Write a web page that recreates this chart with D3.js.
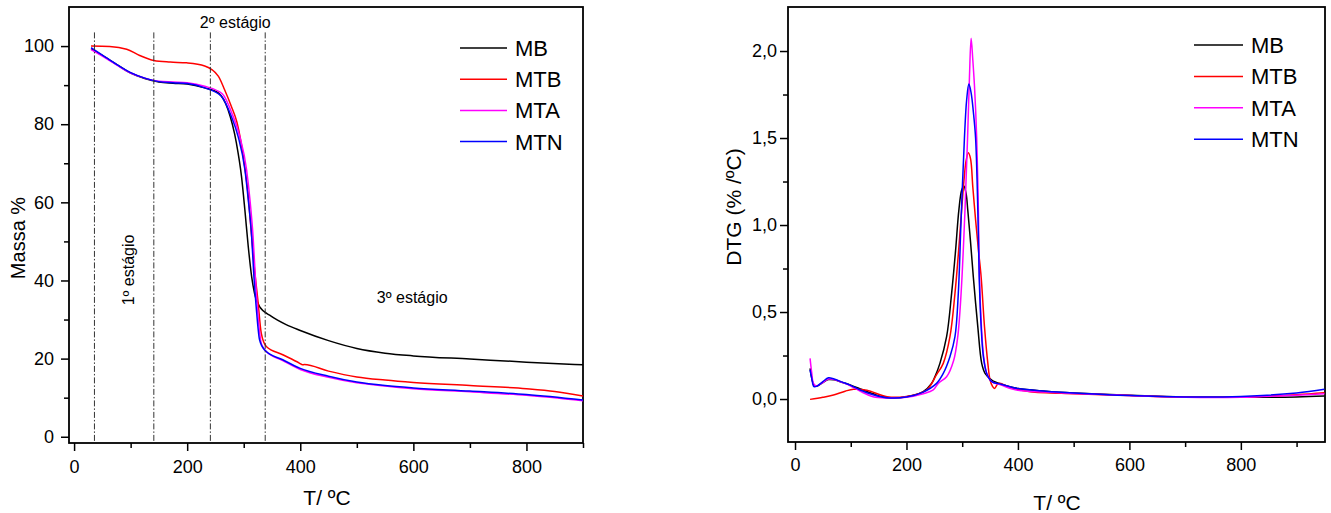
<!DOCTYPE html>
<html><head><meta charset="utf-8">
<script src="https://cdn.jsdelivr.net/npm/d3@7"></script>
<style>
body{margin:0;background:#fff}
svg{display:block}
text{font-family:"Liberation Sans",Arial,Helvetica,sans-serif;fill:#000}
</style>
</head><body>
<svg id="chart" width="1331" height="513"></svg>
<script>
// ---------- data ----------
const seriesNames = ["MB", "MTB", "MTA", "MTN"];
const seriesColors = ["#000000", "#ff0000", "#ff00ff", "#0000ff"];

// TG (Massa %) curves
const tgMB_T = [30, 50, 75, 100, 125, 150, 175, 200, 231, 255, 272, 287, 296, 302, 308, 314, 319, 328, 349, 375, 400, 450, 500, 550, 600, 700, 800, 900];
const tgMB_V = [99.3, 97.6, 95.3, 93.1, 91.7, 90.8, 90.5, 90.3, 89.3, 88.0, 83.8, 75.2, 66.7, 58.1, 48.7, 41.0, 36.8, 33.3, 30.8, 28.7, 27.2, 24.6, 22.6, 21.4, 20.7, 19.9, 19.1, 18.4];

const tgMTB_T = [30, 63, 93, 116, 141, 170, 199, 231, 255, 266, 278, 288, 300, 307, 313, 319, 325, 331, 340, 369, 399, 404, 407, 450, 500, 550, 600, 700, 800, 850, 900];
const tgMTB_V = [100, 99.9, 99.2, 97.6, 96.3, 95.9, 95.7, 94.9, 92.3, 88.9, 84.6, 80.5, 71.0, 63.0, 53.0, 43.0, 35.0, 26.5, 23.1, 21.0, 18.8, 18.4, 18.5, 16.8, 15.3, 14.5, 13.9, 13.1, 12.3, 11.6, 10.4];

const tgMTA_T = [30, 50, 75, 100, 125, 150, 175, 200, 231, 262, 280, 293, 305, 311, 316.5, 320.5, 325, 331, 340, 369, 400, 450, 500, 550, 600, 700, 800, 900];
const tgMTA_V = [99.1, 97.4, 95.2, 93.1, 91.8, 91.0, 90.8, 90.6, 89.7, 87.8, 82.5, 76.9, 68.4, 60.7, 51.3, 41.0, 31.6, 23.9, 21.8, 19.5, 17.2, 15.2, 13.8, 13.0, 12.3, 11.5, 10.6, 9.2];

const tgMTN_T = [30, 50, 75, 100, 125, 150, 175, 200, 231, 260, 278, 290, 302, 308, 314, 318, 322, 328, 337, 369, 400, 450, 500, 550, 600, 700, 800, 900];
const tgMTN_V = [99.6, 97.7, 95.3, 93.2, 91.8, 90.9, 90.6, 90.4, 89.3, 87.2, 82.0, 76.9, 68.4, 60.7, 51.3, 41.0, 33.3, 24.8, 22.2, 19.7, 17.5, 15.5, 14.0, 13.1, 12.5, 11.7, 10.8, 9.4];

// DTG (% /ºC) curves
const dtgMB_T = [27, 30, 34, 40, 50, 60, 70, 85, 100, 120, 140, 165, 200, 230, 245, 251, 260, 272, 281, 288, 294, 299, 303, 307, 310, 315, 320, 328, 335, 341, 353, 370, 400, 450, 500, 600, 700, 800, 900, 950];
const dtgMB_V = [0.176, 0.12, 0.08, 0.075, 0.095, 0.112, 0.11, 0.095, 0.08, 0.055, 0.03, 0.008, 0.013, 0.042, 0.09, 0.128, 0.205, 0.358, 0.607, 0.85, 1.086, 1.2, 1.224, 1.18, 1.086, 0.9, 0.70, 0.415, 0.205, 0.148, 0.109, 0.085, 0.06, 0.045, 0.035, 0.022, 0.012, 0.01, 0.012, 0.017];

const dtgMTB_T = [27, 50, 69, 90, 105, 129, 165, 200, 236, 254, 266, 278, 287, 293, 299, 303, 307, 311, 315, 319, 324, 329, 334, 340, 346, 350, 354, 358, 365, 380, 400, 422, 500, 600, 700, 800, 900, 950];
const dtgMTB_V = [-0.002, 0.01, 0.023, 0.045, 0.056, 0.05, 0.013, 0.015, 0.052, 0.14, 0.205, 0.358, 0.607, 0.83, 1.086, 1.25, 1.37, 1.415, 1.38, 1.22, 1.03, 0.86, 0.70, 0.415, 0.205, 0.109, 0.075, 0.061, 0.09, 0.075, 0.055, 0.042, 0.03, 0.02, 0.012, 0.012, 0.025, 0.036];

const dtgMTA_T = [27, 30, 33, 38, 50, 60, 70, 85, 100, 120, 140, 165, 200, 230, 248, 257, 272, 284.5, 292, 298, 305, 309.6, 313, 316, 319, 322, 326, 329, 331, 334.5, 338.5, 344, 353, 370, 400, 450, 500, 600, 700, 800, 900, 950];
const dtgMTA_V = [0.234, 0.15, 0.09, 0.075, 0.095, 0.115, 0.112, 0.095, 0.075, 0.04, 0.013, 0.006, 0.01, 0.03, 0.052, 0.09, 0.128, 0.22, 0.358, 0.607, 1.086, 1.5, 1.85, 2.073, 1.95, 1.8, 1.5, 1.086, 0.70, 0.415, 0.243, 0.147, 0.1, 0.08, 0.05, 0.04, 0.032, 0.02, 0.01, 0.01, 0.022, 0.03];

const dtgMTN_T = [27, 30, 34, 40, 50, 60, 70, 85, 99, 117, 140, 165, 200, 230, 254, 266, 278, 287, 293, 298, 304, 308, 312, 316, 320, 324, 328, 330.5, 334, 338, 344, 353, 370, 400, 450, 500, 600, 700, 800, 900, 950];
const dtgMTN_V = [0.167, 0.12, 0.071, 0.075, 0.1, 0.122, 0.115, 0.097, 0.08, 0.052, 0.025, 0.008, 0.012, 0.04, 0.09, 0.147, 0.243, 0.358, 0.607, 1.03, 1.5, 1.72, 1.81, 1.76, 1.65, 1.5, 1.086, 0.70, 0.415, 0.243, 0.147, 0.1, 0.085, 0.06, 0.045, 0.035, 0.02, 0.012, 0.015, 0.035, 0.056];

// stage boundaries (ºC)
const stageTemps = [36, 141, 241, 338];
const stageLabels = ["1º estágio", "2º estágio", "3º estágio"];

// axis ticks
const tgXTicks = [0, 200, 400, 600, 800];
const tgXMinor = [100, 300, 500, 700, 900];
const tgYTicks = [0, 20, 40, 60, 80, 100];
const tgYMinor = [10, 30, 50, 70, 90];
const dtgXTicks = [0, 200, 400, 600, 800];
const dtgXMinor = [100, 300, 500, 700, 900];
const dtgYTicks = [0, 0.5, 1.0, 1.5, 2.0];
const dtgYMinor = [0.25, 0.75, 1.25, 1.75];

// ---------- drawing ----------
const svg = d3.select("#chart");
const zip = (T, V) => T.map((t, i) => ({x: t, y: V[i]}));
const tgSeries = [zip(tgMB_T, tgMB_V), zip(tgMTB_T, tgMTB_V), zip(tgMTA_T, tgMTA_V), zip(tgMTN_T, tgMTN_V)];
const dtgSeries = [zip(dtgMB_T, dtgMB_V), zip(dtgMTB_T, dtgMTB_V), zip(dtgMTA_T, dtgMTA_V), zip(dtgMTN_T, dtgMTN_V)];

function panel(opts) {
  const {x, y, left, right, top, bottom} = opts;
  const g = svg.append("g");
  const clipId = "clip" + Math.round(left);
  svg.append("clipPath").attr("id", clipId).append("rect")
    .attr("x", left).attr("y", top).attr("width", right - left).attr("height", bottom - top);

  // minor ticks
  g.append("g").attr("transform", `translate(0,${bottom})`)
    .call(d3.axisBottom(x).tickValues(opts.xMinor).tickSize(5).tickFormat(""))
    .call(a => a.select(".domain").remove())
    .call(a => a.selectAll("line").attr("stroke-width", 1.5));
  g.append("g").attr("transform", `translate(${left},0)`)
    .call(d3.axisLeft(y).tickValues(opts.yMinor).tickSize(5).tickFormat(""))
    .call(a => a.select(".domain").remove())
    .call(a => a.selectAll("line").attr("stroke-width", 1.5));
  // major ticks
  g.append("g").attr("transform", `translate(0,${bottom})`)
    .call(d3.axisBottom(x).tickValues(opts.xTicks).tickSize(8).tickPadding(opts.xPad).tickFormat(d3.format("d")))
    .call(a => a.select(".domain").remove())
    .call(a => a.selectAll("line").attr("stroke-width", 1.5))
    .call(a => a.selectAll("text").attr("font-size", 18).attr("font-family", '"Liberation Sans",Arial,sans-serif'));
  g.append("g").attr("transform", `translate(${left},0)`)
    .call(d3.axisLeft(y).tickValues(opts.yTicks).tickSize(8).tickPadding(opts.yPad).tickFormat(opts.yFormat))
    .call(a => a.select(".domain").remove())
    .call(a => a.selectAll("line").attr("stroke-width", 1.5))
    .call(a => a.selectAll("text").attr("font-size", 18).attr("font-family", '"Liberation Sans",Arial,sans-serif'));

  // frame
  g.append("rect").attr("x", left).attr("y", top).attr("width", right - left).attr("height", bottom - top)
    .attr("fill", "none").attr("stroke", "#000").attr("stroke-width", 1.8);

  // curves
  const line = d3.line().x(d => x(d.x)).y(d => y(d.y)).curve(opts.curve);
  const cg = g.append("g").attr("clip-path", `url(#${clipId})`);
  opts.series.forEach((s, i) => {
    cg.append("path").datum(s).attr("d", line).attr("fill", "none")
      .attr("stroke", seriesColors[i]).attr("stroke-width", 1.5).attr("stroke-linejoin", "round");
  });

  // legend
  seriesNames.forEach((n, i) => {
    const ly = opts.legY + i * opts.legStep;
    g.append("line").attr("x1", opts.legX).attr("x2", opts.legX + opts.legLen).attr("y1", ly).attr("y2", ly)
      .attr("stroke", seriesColors[i]).attr("stroke-width", 1.5);
    g.append("text").attr("x", opts.legX + opts.legLen + 8).attr("y", ly).attr("dy", "0.36em")
      .attr("font-size", 22).text(n);
  });

  // axis titles
  g.append("text").attr("x", opts.xTitle[0]).attr("y", opts.xTitle[1]).attr("text-anchor", "middle")
    .attr("font-size", 21).text("T/ ºC");
  g.append("text").attr("transform", `translate(${opts.yTitle[0]},${opts.yTitle[1]}) rotate(-90)`)
    .attr("text-anchor", "middle").attr("font-size", opts.yTitleSize).text(opts.yTitleText);
  return g;
}

// Left: TG
const xTG = d3.scaleLinear().domain([-9, 900]).range([69, 583]);
const yTG = d3.scaleLinear().domain([-1.6, 110]).range([443, 7]);
const gL = panel({
  x: xTG, y: yTG, left: 69, right: 583, top: 7, bottom: 443,
  xTicks: tgXTicks, xMinor: tgXMinor, yTicks: tgYTicks, yMinor: tgYMinor,
  xPad: 9, yPad: 7, yFormat: d3.format("d"),
  series: tgSeries, curve: d3.curveMonotoneX,
  legX: 460, legLen: 47, legY: 48, legStep: 31.2,
  xTitle: [327, 505], yTitle: [25, 238], yTitleText: "Massa %", yTitleSize: 20
});
// stage lines
gL.selectAll(".stage").data(stageTemps).enter().append("line")
  .attr("x1", d => xTG(d)).attr("x2", d => xTG(d))
  .attr("y1", yTG(103.5)).attr("y2", 443)
  .attr("stroke", "#333").attr("stroke-width", 1).attr("stroke-dasharray", "6,2,1.5,2");
gL.append("text").attr("transform", `translate(${xTG(106)},${yTG(42.7)}) rotate(-90)`)
  .attr("text-anchor", "middle").attr("font-size", 16).text(stageLabels[0]);
gL.append("text").attr("x", xTG(285)).attr("y", yTG(104.6)).attr("text-anchor", "middle")
  .attr("font-size", 16).text(stageLabels[1]);
gL.append("text").attr("x", xTG(598)).attr("y", yTG(34.2)).attr("text-anchor", "middle")
  .attr("font-size", 16).text(stageLabels[2]);

// Right: DTG
const xD = d3.scaleLinear().domain([-12.6, 951]).range([788, 1325]);
const yD = d3.scaleLinear().domain([-0.247, 2.253]).range([442, 7]);
panel({
  x: xD, y: yD, left: 788, right: 1325, top: 7, bottom: 442,
  xTicks: dtgXTicks, xMinor: dtgXMinor, yTicks: dtgYTicks, yMinor: dtgYMinor,
  xPad: 8, yPad: 3, yFormat: d => d3.format(".1f")(d).replace(".", ","),
  series: dtgSeries, curve: d3.curveCatmullRom.alpha(0.5),
  legX: 1194, legLen: 49, legY: 45, legStep: 31.4,
  xTitle: [1057, 510], yTitle: [741, 207], yTitleText: "DTG (% /ºC)", yTitleSize: 21
});
</script>
</body></html>
